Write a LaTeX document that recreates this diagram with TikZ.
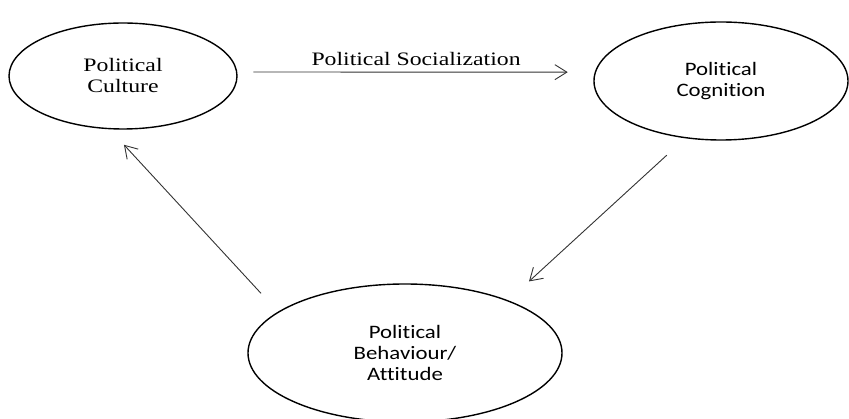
\documentclass[tikz,border=0pt]{standalone}
\usepackage{fontspec}
\setmainfont{Liberation Serif}[FakeStretch=1.25]
\newfontfamily\calibri{Carlito}[FakeStretch=1.2,Ligatures=NoCommon]
\usepackage{tikz}
\usetikzlibrary{shapes.geometric,arrows.meta}

\begin{document}
\begin{tikzpicture}[x=1pt,y=-1pt,
    bubble/.style={ellipse,draw,line width=1.4pt,inner sep=0pt,align=center,font=\fontsize{19}{21}\selectfont},
    flow/.style={-{Straight Barb[length=12pt,width=15pt]},line width=0.9pt,black!80}]
    \useasboundingbox (0,0) rectangle (849,419);
    \node[bubble, minimum width=228pt, minimum height=106pt] (culture) at (123,76) {Political\\Culture};
    \node[bubble, minimum width=254pt, minimum height=118pt, font=\calibri\fontsize{19}{21}\selectfont] (cognition) at (721,81) {Political\\Cognition};
    \node[bubble, minimum width=314pt, minimum height=138pt, font=\calibri\fontsize{19}{21}\selectfont] (behaviour) at (405,353) {Political\\Behaviour/\\Attitude};
    \draw[flow, shorten <=16pt, shorten >=27pt] (culture.2) -- node[above, inner sep=6pt, text=black, font=\fontsize{19}{21}\selectfont] {Political Socialization} (cognition.176);
    \draw[flow, shorten <=25pt, shorten >=28pt] (cognition.238) -- (behaviour.27);
    \draw[flow, shorten <=25pt, shorten >=21pt] (behaviour.162) -- (culture.256);
\end{tikzpicture}
\end{document}
